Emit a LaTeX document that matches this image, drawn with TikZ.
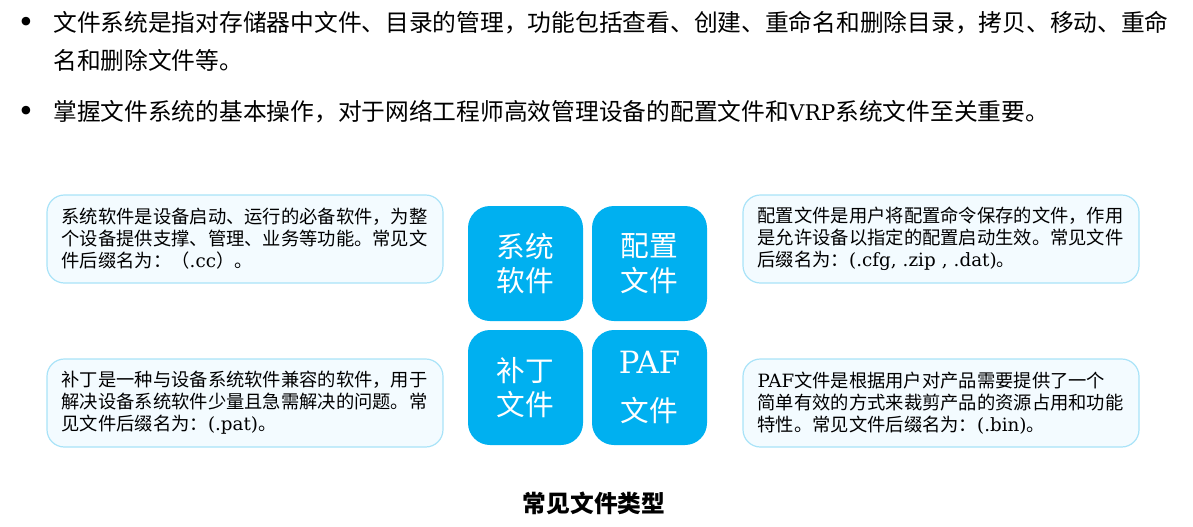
\documentclass[tikz,border=0pt]{standalone}
\usepackage{fontspec}
\setmainfont{Noto Sans CJK SC}
\newfontfamily\latfont{DejaVu Serif}
\newcommand{\lat}[1]{{\latfont #1}}
\definecolor{tileblue}{HTML}{00B0F0}
\definecolor{noteedge}{HTML}{A9E3F8}
\definecolor{notefill}{HTML}{F3FBFF}
\tikzset{
  tile/.style={draw=none,fill=tileblue,rounded corners=16.5pt,minimum width=86.25pt,minimum height=86.25pt,
    inner sep=0pt,align=center,text=white,font=\fontsize{21.5pt}{25.8pt}\selectfont},
  note/.style={draw=noteedge,fill=notefill,line width=.9pt,rounded corners=13pt,minimum width=297pt,minimum height=66pt,
    inner sep=0pt,align=left,text width=275pt,font=\fontsize{13.72pt}{16.5pt}\selectfont},
  bodyline/.style={anchor=base west,inner sep=0pt,font=\fontsize{17.8pt}{21pt}\selectfont},
  dotmark/.style={anchor=base,inner sep=0pt,font=\fontsize{22pt}{24pt}\selectfont},
}
\begin{document}
\begin{tikzpicture}[x=.75pt,y=-.75pt]
      \useasboundingbox (0,0) rectangle (1193,526);

      \node[dotmark] (dot1) at (26,32) {\lat{•}};
      \node[dotmark] (dot2) at (26,121) {\lat{•}};
      \node[bodyline] (line1) at (53,31) {文件系统是指对存储器中文件、目录的管理，功能包括查看、创建、重命名和删除目录，拷贝、移动、重命};
      \node[bodyline] (line2) at (53,69) {名和删除文件等。};
      \node[bodyline] (line3) at (53,120) {掌握文件系统的基本操作，对于网络工程师高效管理设备的配置文件和{\latfont\fontsize{16.2pt}{21pt}\selectfont VRP}系统文件至关重要。};

      \node[note] (sysnote) at (245,239) {系统软件是设备启动、运行的必备软件，为整\\个设备提供支撑、管理、业务等功能。常见文\\件后缀名为：（\lat{.cc}）。};
      \node[note] (patchnote) at (245,403) {补丁是一种与设备系统软件兼容的软件，用于\\解决设备系统软件少量且急需解决的问题。常\\见文件后缀名为：\lat{(.pat)}。};
      \node[note] (cfgnote) at (941,239) {配置文件是用户将配置命令保存的文件，作用\\是允许设备以指定的配置启动生效。常见文件\\后缀名为：\lat{(.cfg, .zip , .dat)}。};
      \node[note] (pafnote) at (941,403) {\lat{PAF}文件是根据用户对产品需要提供了一个\\简单有效的方式来裁剪产品的资源占用和功能\\特性。常见文件后缀名为：\lat{(.bin)}。};

      \node[tile] (sys) at (525.5,263.5) {系统\\软件};
      \node[tile] (cfg) at (649.5,263.5) {配置\\文件};
      \node[tile] (patch) at (525.5,387.5) {补丁\\文件};
      \node[tile] (paf) at (649.5,387.5) {{\latfont\fontsize{23pt}{25.8pt}\selectfont PAF}\\[10pt]文件};

      \node[anchor=base,inner sep=0pt,font=\fontsize{17.8pt}{21pt}\selectfont\bfseries] (title) at (594,512) {常见文件类型};

    \end{tikzpicture}
\end{document}
